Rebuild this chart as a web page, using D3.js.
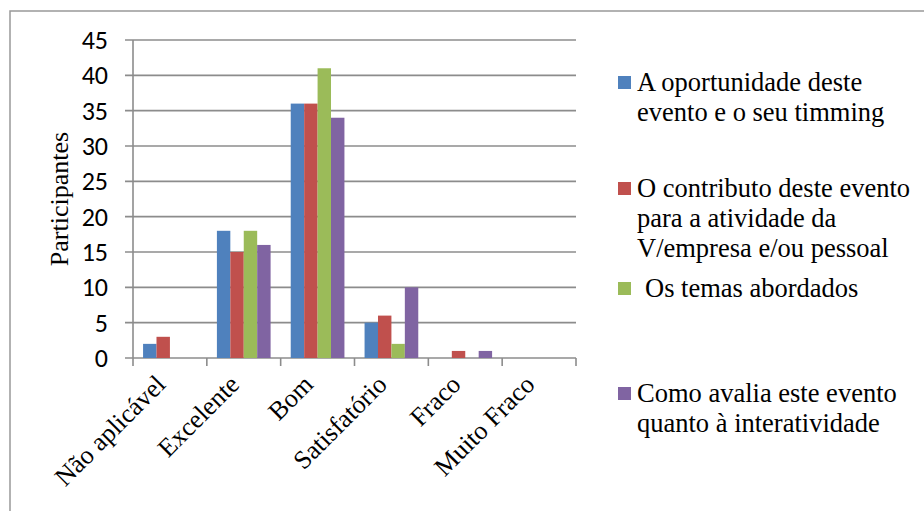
<!DOCTYPE html>
<html><head><meta charset="utf-8">
<script src="https://cdn.jsdelivr.net/npm/d3@7"></script>
</head><body style="margin:0">
<svg id="c" width="924" height="511"></svg>
<script>
const categories = ["Não aplicável","Excelente","Bom","Satisfatório","Fraco","Muito Fraco"];
const seriesNames = [
  ["A oportunidade deste","evento e o seu timming"],
  ["O contributo deste evento","para a atividade da","V/empresa e/ou pessoal"],
  ["Os temas abordados"],
  ["Como avalia este evento","quanto à interatividade"]
];
const oportunidade = [2,18,36,5,0,0];
const contributo   = [3,15,36,6,1,0];
const temas        = [0,18,41,2,0,0];
const interatividade = [0,16,34,10,1,0];
const yTicks = [0,5,10,15,20,25,30,35,40,45];
const colors = ["#4F81BD","#C0504D","#9BBB59","#8064A2"];
const seriesValues = [oportunidade, contributo, temas, interatividade];
const SERIF = "Liberation Serif", SANS = "Carlito";

const svg = d3.select("#c");
svg.append("rect").attr("x",10).attr("y",11).attr("width",940).attr("height",540)
  .attr("fill","none").attr("stroke","#999").attr("stroke-width",1.5);

const x0 = d3.scaleBand().domain(categories).range([133,576]).paddingInner(0).paddingOuter(0);
const x1 = d3.scaleBand().domain(d3.range(4)).range([0,x0.bandwidth()]).paddingInner(0).paddingOuter(0.75);
const y = d3.scaleLinear().domain([0,45]).range([358,40]);

svg.append("g").selectAll("line").data(yTicks).join("line")
  .attr("x1",125).attr("x2",576).attr("y1",d=>y(d)).attr("y2",d=>y(d))
  .attr("stroke","#8c8c8c").attr("stroke-width",1.6);

const g = svg.append("g");
categories.forEach((c,i)=>{
  seriesValues.forEach((vals,s)=>{
    if(vals[i]<=0) return;
    g.append("rect").attr("x",x0(c)+x1(s)).attr("width",x1.bandwidth())
      .attr("y",y(vals[i])).attr("height",y(0)-y(vals[i])).attr("fill",colors[s]);
  });
});

svg.append("line").attr("x1",133).attr("x2",133).attr("y1",40).attr("y2",358)
  .attr("stroke","#8c8c8c").attr("stroke-width",1.6);
const bounds = categories.map(c=>x0(c)).concat([576]);
svg.append("g").selectAll("line").data(bounds).join("line")
  .attr("x1",d=>d).attr("x2",d=>d).attr("y1",358).attr("y2",366)
  .attr("stroke","#8c8c8c").attr("stroke-width",1.6);

svg.append("g").selectAll("text").data(yTicks).join("text")
  .attr("font-family",SANS)
  .attr("x",108).attr("y",d=>y(d)+9).attr("text-anchor","end")
  .attr("font-size",26).attr("fill","#000")
  .text(d=>d);

svg.append("text").attr("font-family",SERIF).attr("transform","translate(68,199) rotate(-90)")
  .attr("text-anchor","middle").attr("font-size",26)
  .text("Participantes");

svg.append("g").selectAll("text").data(categories).join("text")
  .attr("font-family",SERIF)
  .attr("transform",d=>`translate(${x0(d)+x0.bandwidth()/2-3},${386}) rotate(-45)`)
  .attr("text-anchor","end")
  .attr("font-size",26)
  .text(d=>d);

const legendY = [82,188,288,393];
const legendDx = [0,0,8,0];
seriesNames.forEach((lines,s)=>{
  svg.append("rect").attr("x",618).attr("y",legendY[s]-6).attr("width",13).attr("height",13).attr("fill",colors[s]);
  const t = svg.append("text").attr("font-family",SERIF).attr("font-size",26.5);
  lines.forEach((ln,k)=>{
    t.append("tspan").attr("x",637+legendDx[s]).attr("y",legendY[s]+k*30+9).text(ln);
  });
});
</script>
</body></html>
